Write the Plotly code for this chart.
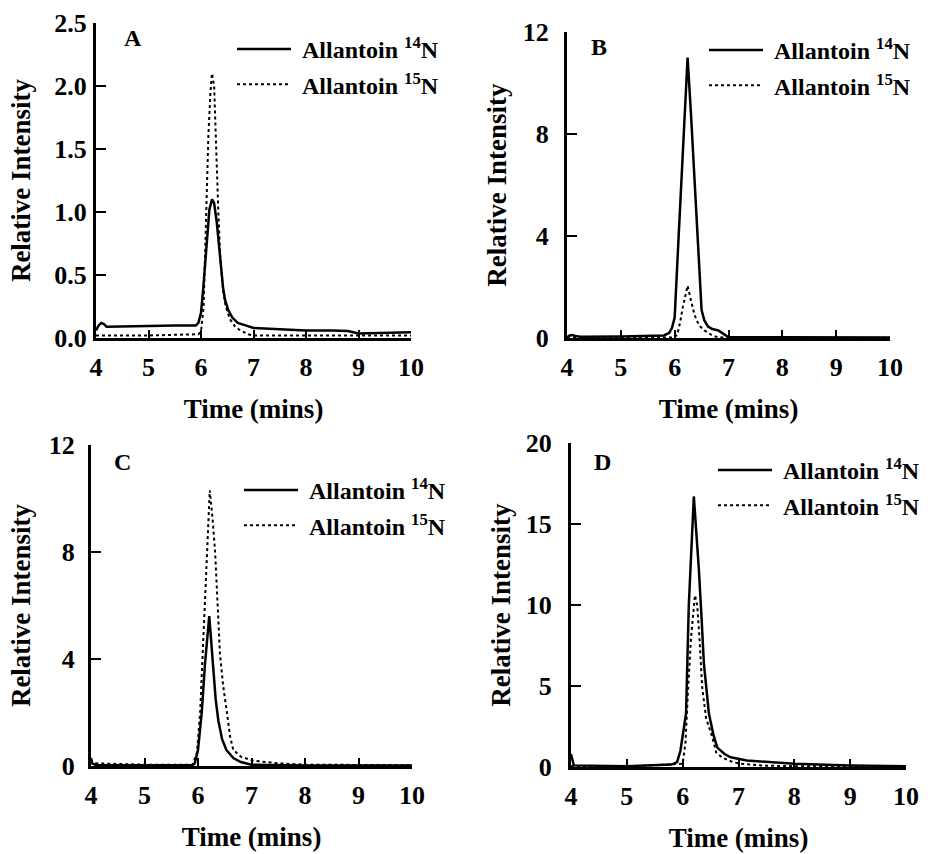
import plotly.graph_objects as go

# ---------------- data ----------------
# panel A
a14_t = [4.0, 4.05, 4.1, 4.15, 4.2, 4.3, 5.0, 5.5, 5.9, 5.95, 6.0, 6.04, 6.08, 6.12, 6.16, 6.21,
         6.25, 6.3, 6.35, 6.38, 6.42, 6.46, 6.52, 6.6, 6.7, 6.85, 7.0, 7.5, 8.0, 8.5, 8.8, 9.0, 9.5, 10.0]
a14_y = [0.06, 0.10, 0.12, 0.11, 0.09, 0.09, 0.095, 0.10, 0.10, 0.12, 0.20, 0.38, 0.60, 0.85, 1.02, 1.10,
         1.07, 0.92, 0.70, 0.55, 0.40, 0.30, 0.22, 0.16, 0.12, 0.10, 0.08, 0.07, 0.06, 0.06, 0.055, 0.035, 0.04, 0.045]
a15_t = [4.0, 5.0, 5.95, 6.0, 6.05, 6.08, 6.11, 6.14, 6.18, 6.21, 6.25, 6.29, 6.33, 6.37, 6.42, 6.47,
         6.55, 6.65, 6.75, 6.9, 7.0, 8.0, 9.0, 10.0]
a15_y = [0.02, 0.02, 0.03, 0.05, 0.25, 0.70, 1.15, 1.60, 1.95, 2.10, 2.00, 1.40, 1.00, 0.62, 0.38, 0.25,
         0.15, 0.09, 0.06, 0.03, 0.02, 0.02, 0.02, 0.02]

# panel B
b14_t = [4.0, 4.05, 4.1, 4.15, 4.25, 5.0, 5.8, 5.9, 5.95, 6.0, 6.06, 6.12, 6.18, 6.24, 6.3, 6.37, 6.44,
         6.5, 6.55, 6.62, 6.7, 6.81, 6.88, 6.94, 7.0, 8.0, 9.0, 10.0]
b14_y = [0.03, 0.10, 0.12, 0.08, 0.05, 0.06, 0.10, 0.20, 0.40, 0.80, 3.4, 5.9, 8.5, 11.0, 8.9, 6.0, 3.2,
         1.1, 0.70, 0.45, 0.35, 0.30, 0.20, 0.10, 0.03, 0.03, 0.02, 0.02]
b15_t = [4.0, 5.0, 6.0, 6.05, 6.1, 6.15, 6.2, 6.24, 6.3, 6.37, 6.45, 6.55, 6.7, 6.8, 7.0, 10.0]
b15_y = [0.01, 0.01, 0.02, 0.15, 0.60, 1.20, 1.75, 2.05, 1.50, 0.90, 0.50, 0.30, 0.10, 0.03, 0.01, 0.01]

# panel C
c14_t = [4.0, 4.02, 4.1, 5.0, 5.9, 5.94, 6.0, 6.07, 6.13, 6.21, 6.25, 6.28, 6.33, 6.38, 6.45, 6.53,
         6.66, 6.8, 7.0, 8.0, 10.0]
c14_y = [0.30, 0.10, 0.03, 0.02, 0.03, 0.10, 0.60, 2.0, 3.8, 5.6, 4.5, 3.5, 2.5, 1.7, 1.0, 0.60,
         0.30, 0.15, 0.05, 0.02, 0.02]
c15_t = [4.0, 4.03, 4.1, 4.5, 5.0, 5.9, 5.98, 6.04, 6.11, 6.17, 6.22, 6.27, 6.32, 6.41, 6.47, 6.54,
         6.6, 6.66, 6.8, 7.03, 7.5, 8.0, 9.0, 10.0]
c15_y = [0.25, 0.15, 0.10, 0.08, 0.05, 0.05, 0.50, 2.0, 5.5, 8.3, 10.3, 9.3, 8.0, 4.2, 3.0, 2.0,
         1.1, 0.60, 0.35, 0.20, 0.10, 0.05, 0.03, 0.03]

# panel D
d14_t = [4.0, 4.02, 4.05, 5.0, 5.8, 5.9, 5.96, 6.06, 6.11, 6.2, 6.23, 6.29, 6.34, 6.38, 6.47, 6.55,
         6.62, 6.75, 6.86, 7.15, 8.0, 9.0, 10.0]
d14_y = [0.80, 0.50, 0.10, 0.05, 0.15, 0.30, 1.0, 3.3, 10.0, 16.7, 15.3, 12.2, 9.1, 6.4, 3.3, 2.0,
         1.2, 0.80, 0.60, 0.40, 0.20, 0.10, 0.05]
d15_t = [4.0, 5.0, 6.0, 6.05, 6.1, 6.15, 6.22, 6.26, 6.3, 6.35, 6.42, 6.53, 6.6, 6.7, 6.9, 7.04,
         7.2, 7.5, 8.0, 10.0]
d15_y = [0.05, 0.03, 0.2, 1.5, 5.0, 8.0, 10.6, 10.0, 8.0, 4.9, 3.0, 1.85, 0.9, 0.6, 0.3, 0.2,
         0.15, 0.08, 0.05, 0.03]

panels = ["A", "B", "C", "D"]
series_14 = [(a14_t, a14_y), (b14_t, b14_y), (c14_t, c14_y), (d14_t, d14_y)]
series_15 = [(a15_t, a15_y), (b15_t, b15_y), (c15_t, c15_y), (d15_t, d15_y)]
y_max = [2.5, 12, 12, 20]
y_ticks = [[0, 0.5, 1.0, 1.5, 2.0, 2.5], [0, 4, 8, 12], [0, 4, 8, 12], [0, 5, 10, 15, 20]]
y_labels = [["0.0", "0.5", "1.0", "1.5", "2.0", "2.5"], ["0", "4", "8", "12"], ["0", "4", "8", "12"],
            ["0", "5", "10", "15", "20"]]
x_ticks = [4, 5, 6, 7, 8, 9, 10]

W, H = 928, 854
# pixel boxes of the four plot areas: (left, right, top, bottom)
boxes = [(96, 411, 23, 338), (567, 890, 32, 338), (91, 412, 445, 766), (571, 906, 443, 767)]
label_pos = [(133, 38), (599, 47), (122, 462), (602, 462)]
legend_pos = [(232, 27), (704, 28), (239, 468), (713, 448)]
ytick_pad = [1, 10, 8, 11]
ytitle_gap = [16, 9, 11, 8]

FONT = "Liberation Serif, Times New Roman, serif"

fig = go.Figure()

for i, p in enumerate(panels):
    xa = "x" if i == 0 else f"x{i + 1}"
    ya = "y" if i == 0 else f"y{i + 1}"
    lg = "legend" if i == 0 else f"legend{i + 1}"
    t14, v14 = series_14[i]
    t15, v15 = series_15[i]
    fig.add_trace(go.Scatter(x=t14, y=v14, mode="lines", name="<b>&nbsp;Allantoin <sup>14</sup>N</b>",
                             legendgroup=f"{p}14",
                             line=dict(color="black", width=2.5), xaxis=xa, yaxis=ya, legend=lg))
    fig.add_trace(go.Scatter(x=t15, y=v15, mode="lines", name="<b>&nbsp;Allantoin <sup>15</sup>N</b>",
                             legendgroup=f"{p}15",
                             line=dict(color="black", width=2, dash="dot"), xaxis=xa, yaxis=ya, legend=lg))

layout = dict(
    width=W, height=H,
    margin=dict(l=0, r=0, t=0, b=0, autoexpand=False),
    paper_bgcolor="white", plot_bgcolor="white",
    font=dict(family=FONT, color="black", size=22),
    annotations=[],
)

for i, p in enumerate(panels):
    l, r, t, b = boxes[i]
    sx = "" if i == 0 else str(i + 1)
    axis_common = dict(showline=True, linecolor="black", linewidth=3, ticks="inside",
                       tickcolor="black", tickwidth=2, showgrid=False, zeroline=False,
                       mirror=False, tickfont=dict(family=FONT, size=26, weight="bold"))
    layout["xaxis" + sx] = dict(
        axis_common, domain=[l / W, r / W], anchor="y" + sx, range=[4, 10],
        tickvals=x_ticks, ticktext=[f"<b>{v}</b>" for v in x_ticks], ticklen=8, ticklabelstandoff=4,
        title=dict(text="<b>Time (mins)</b>", font=dict(family=FONT, size=27), standoff=18),
    )
    layout["yaxis" + sx] = dict(
        axis_common, domain=[1 - b / H, 1 - t / H], anchor="x" + sx, range=[0, y_max[i]],
        tickvals=y_ticks[i], ticktext=[f"<b>{v}</b>" for v in y_labels[i]], ticklen=10,
        ticklabelstandoff=ytick_pad[i],
        title=dict(text="<b>Relative Intensity</b>", font=dict(family=FONT, size=27), standoff=ytitle_gap[i]),
    )
    lx, ly = label_pos[i]
    layout["annotations"].append(dict(text=f"<b>{p}</b>", x=lx / W, y=1 - ly / H, xref="paper", yref="paper",
                                      xanchor="center", yanchor="middle",
                                      showarrow=False, font=dict(family=FONT, size=24)))
    gx, gy = legend_pos[i]
    layout["legend" if i == 0 else f"legend{i + 1}"] = dict(
        x=gx / W, y=1 - gy / H, xanchor="left", yanchor="top", bgcolor="rgba(0,0,0,0)",
        font=dict(family=FONT, size=24), itemwidth=54, tracegroupgap=1,
    )

fig.update_layout(**layout)
fig.write_html("out.html", config={"displayModeBar": False},
               post_script="document.body.style.margin='0';")
